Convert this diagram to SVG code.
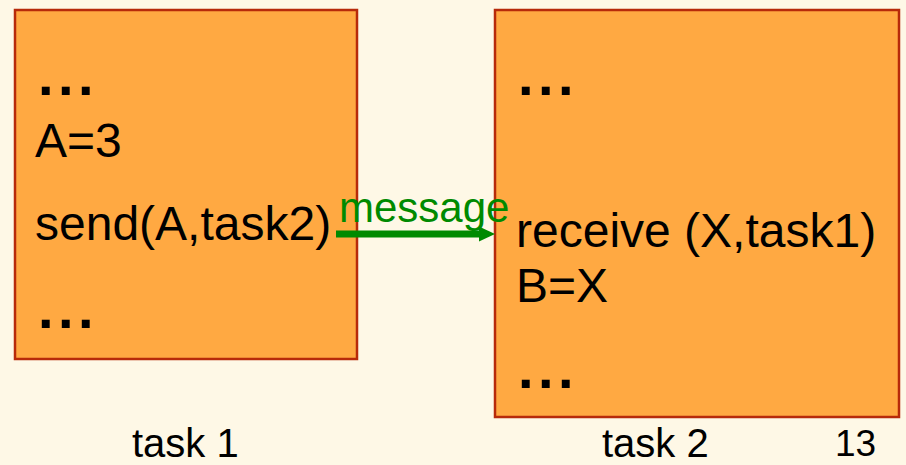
<svg xmlns="http://www.w3.org/2000/svg" width="906" height="465" viewBox="0 0 906 465">
  <style>
    .task { fill: #ffa942; stroke: #b72a0a; stroke-width: 2.5; }
    .code { font-family: "Liberation Sans", Arial, sans-serif; font-size: 48px; fill: #000; }
    .dots { font-family: "Liberation Sans", Arial, sans-serif; font-size: 56px; font-weight: bold; letter-spacing: 4.4px; fill: #000; }
    .label { font-family: "Liberation Sans", Arial, sans-serif; font-size: 40px; fill: #000; }
    .msg { font-family: "Liberation Sans", Arial, sans-serif; font-size: 42px; fill: #008a00; }
  </style>

  <rect x="0" y="0" width="906" height="465" fill="#fef8e6"/>

  <!-- first task -->
  <g id="task1">
    <rect class="task" x="15" y="10" width="342" height="349"/>
    <text class="dots" x="38" y="95">...</text>
    <text class="code" x="35" y="157">A=3</text>
    <text class="code" x="35" y="240">send(A,task2)</text>
    <text class="dots" x="38" y="328">...</text>
  </g>

  <!-- second task -->
  <g id="task2">
    <rect class="task" x="495" y="10" width="404" height="407"/>
    <text class="dots" x="518" y="95">...</text>
    <text class="code" x="516" y="247">receive (X,task1)</text>
    <text class="code" x="516" y="302">B=X</text>
    <text class="dots" x="518" y="388">...</text>
  </g>

  <!-- message passed from task 1 to task 2 -->
  <g id="connectors">
    <line x1="336" y1="234" x2="480" y2="234" stroke="#008a00" stroke-width="7"/>
    <path d="M479,226.5 L495,234 L479,241.5 Z" fill="#008a00"/>
    <text class="msg" x="339" y="222">message</text>
  </g>

  <!-- captions -->
  <text class="label" x="132" y="457">task 1</text>
  <text class="label" x="602" y="457">task 2</text>
  <text class="label" x="835" y="456" style="font-size:37px">13</text>
</svg>
